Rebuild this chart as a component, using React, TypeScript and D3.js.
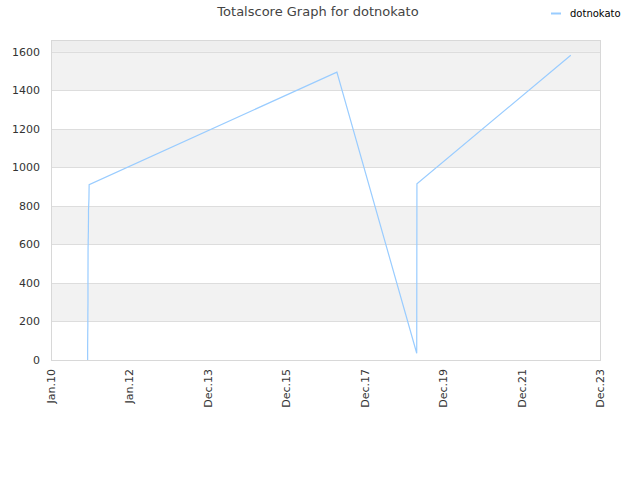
import React, { useRef, useEffect } from 'react';
import * as d3 from 'd3';

const title = 'Totalscore Graph for dotnokato';
const seriesName = 'dotnokato';

// score history (date, total score)
const dates = [
  '2010-12-08', '2010-12-08', '2010-12-09', '2010-12-09', '2010-12-10', '2010-12-10',
  '2010-12-11', '2010-12-11', '2010-12-12', '2010-12-12', '2010-12-13', '2010-12-13',
  '2010-12-14', '2010-12-14', '2010-12-15', '2010-12-15', '2010-12-16', '2010-12-16',
  '2010-12-20', '2010-12-22',
  '2017-04-15',
  '2019-04-28', '2019-04-30',
  '2023-04-01',
];
const scores = [
  0, 67, 135, 145, 176, 233,
  295, 394, 575, 585, 606, 622,
  637, 653, 668, 694, 730, 777,
  834, 911,
  1495,
  35, 915,
  1583,
];

const xTickDates = [
  '2010-01-01', '2012-01-01', '2013-12-31', '2015-12-31',
  '2017-12-30', '2019-12-30', '2021-12-29', '2023-12-29',
];
const yTicks = [0, 200, 400, 600, 800, 1000, 1200, 1400, 1600];
const yMax = 1662;

const parse = d3.timeParse('%Y-%m-%d');

const App: React.FC = () => {
  const svgRef = useRef<SVGSVGElement | null>(null);

  useEffect(() => {
    if (!svgRef.current) return;
    const svg = d3.select(svgRef.current);
    svg.selectAll('*').remove();

    const width = 640;
    const height = 480;
    const margin = { top: 40, right: 40, bottom: 120, left: 51 };
    const innerWidth = width - margin.left - margin.right;
    const innerHeight = height - margin.top - margin.bottom;
    const font = '"DejaVu Sans", Verdana, sans-serif';

    const data = dates.map((d, i) => ({ date: parse(d)!, value: scores[i] }));
    const ticks = xTickDates.map(d => parse(d)!);

    const x = d3.scaleTime()
      .domain([ticks[0], ticks[ticks.length - 1]])
      .range([0, innerWidth]);
    const y = d3.scaleLinear().domain([0, yMax]).range([innerHeight, 0]);

    const chart = svg.append('g').attr('transform', `translate(${margin.left},${margin.top})`);

    // top band above last tick
    chart.append('rect')
      .attr('x', 0).attr('y', 0)
      .attr('width', innerWidth).attr('height', y(1600))
      .attr('fill', '#eeeeee');

    // alternating bands
    for (let i = 0; i < yTicks.length - 1; i++) {
      chart.append('rect')
        .attr('x', 0)
        .attr('y', y(yTicks[i + 1]))
        .attr('width', innerWidth)
        .attr('height', y(yTicks[i]) - y(yTicks[i + 1]))
        .attr('fill', i % 2 === 1 ? '#f2f2f2' : '#ffffff');
    }

    // grid lines
    chart.selectAll('.grid')
      .data(yTicks)
      .join('line')
      .attr('x1', 0).attr('x2', innerWidth)
      .attr('y1', d => Math.round(y(d)) + 0.5)
      .attr('y2', d => Math.round(y(d)) + 0.5)
      .attr('stroke', '#dddddd');

    // border
    chart.append('rect')
      .attr('x', 0.5).attr('y', 0.5)
      .attr('width', innerWidth).attr('height', innerHeight)
      .attr('fill', 'none')
      .attr('stroke', '#d8d8d8');

    // y labels
    chart.selectAll('.ylab')
      .data(yTicks)
      .join('text')
      .attr('x', -11)
      .attr('y', d => y(d))
      .attr('dy', '0.35em')
      .attr('text-anchor', 'end')
      .style('font-family', font)
      .style('font-size', '11px')
      .attr('fill', '#333')
      .text(d => d);

    // x labels
    const fmt = d3.timeFormat('%b.%y');
    chart.selectAll('.xlab')
      .data(ticks)
      .join('text')
      .attr('transform', d => `translate(${x(d) + 4},${innerHeight + 9}) rotate(-90)`)
      .attr('text-anchor', 'end')
      .style('font-family', font)
      .style('font-size', '11px')
      .attr('fill', '#333')
      .text(d => fmt(d));

    // line
    const line = d3.line<{ date: Date; value: number }>()
      .x(d => x(d.date))
      .y(d => y(d.value));
    chart.append('path')
      .datum(data)
      .attr('d', line)
      .attr('fill', 'none')
      .attr('stroke', '#99ccff')
      .attr('stroke-width', 1.2);

    // title
    svg.append('text')
      .attr('x', 318)
      .attr('y', 16)
      .attr('text-anchor', 'middle')
      .style('font-family', font)
      .style('font-size', '13px')
      .attr('fill', '#444')
      .text(title);

    // legend
    svg.append('line')
      .attr('x1', 551).attr('x2', 561)
      .attr('y1', 13.5).attr('y2', 13.5)
      .attr('stroke', '#99ccff')
      .attr('stroke-width', 2);
    svg.append('text')
      .attr('x', 570)
      .attr('y', 17)
      .style('font-family', font)
      .style('font-size', '10px')
      .attr('fill', '#000')
      .text(seriesName);
  }, []);

  return (
    <svg
      ref={svgRef}
      width={640}
      height={480}
      style={{ position: 'absolute', left: 0, top: 0, background: '#fff' }}
    />
  );
};

export default App;
